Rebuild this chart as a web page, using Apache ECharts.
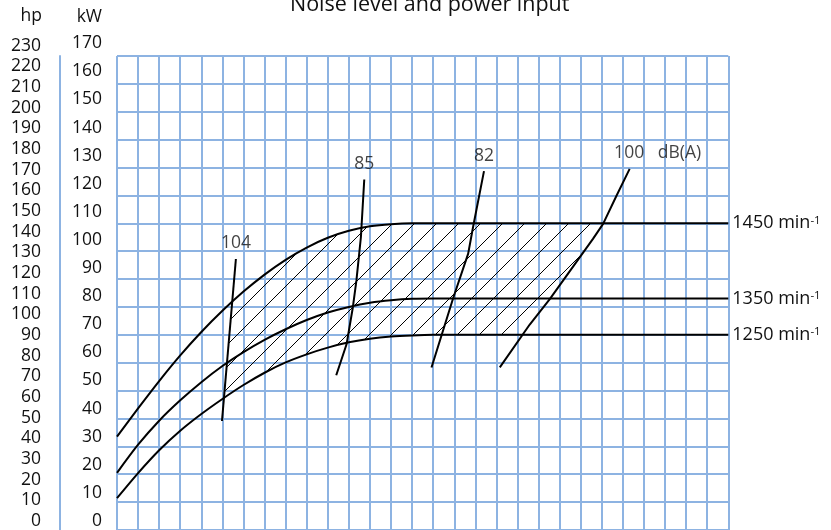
<!DOCTYPE html>
<html>
<head>
<meta charset="utf-8" />
<title>Noise level and power input</title>
<script src="https://cdn.jsdelivr.net/npm/echarts@6/dist/echarts.min.js"></script>
<style>
  html, body { margin: 0; padding: 0; background: #fff; }
  #main { width: 831px; height: 530px; }
</style>
</head>
<body>
<div id="main"></div>
<script>
// x = grid column (0..29), y = kW
var rpm1450 = [[0, 33.5], [1, 43.6], [2, 53.4], [3, 62.6], [4, 71.0], [5, 78.6], [6, 85.5], [7, 91.6],
  [8, 96.9], [9, 101.3], [10, 104.8], [11, 107.3], [12, 108.9], [13, 109.7], [14, 110], [29, 110]];
var rpm1350 = [[0, 20.5], [1, 30.6], [2, 39.2], [3, 46.5], [4, 53.0], [5, 58.8], [6, 63.8], [7, 68.2],
  [8, 72.0], [9, 75.3], [10, 78.0], [11, 80.0], [12, 81.5], [13, 82.4], [14, 82.9], [15, 83], [29, 83]];
var rpm1250 = [[0, 11.4], [1, 20.4], [2, 28.6], [3, 35.6], [4, 41.6], [5, 47.0], [6, 52.0], [7, 56.4],
  [8, 60.1], [9, 63.0], [10, 65.4], [11, 67.3], [12, 68.6], [13, 69.4], [14, 69.8], [15, 70], [29, 70]];
var rpmNames = ['1450', '1350', '1250'];

// noise level lines, dB(A)
var noise104 = [[4.98, 39.1], [5.64, 97.2]];
var noise85 = [[10.4, 55.5], [10.89, 66.6], [11.19, 79.9], [11.36, 89.6], [11.57, 105], [11.73, 125.7]];
var noise82 = [[14.92, 58.3], [15.95, 83.2], [16.66, 99.1], [16.89, 108.6], [17.41, 128.7]];
var noise100 = [[18.16, 58.3], [19.58, 73.7], [20.53, 82.8], [22.58, 104.4], [23.06, 109.8], [23.69, 119.8], [24.32, 129.5]];
var noiseNames = ['104', '85', '82', '100'];
var noiseUnit = 'dB(A)';

var kwMax = 170;
var hpPerKw = 1.36;
var tickStep = 10;
var columns = 29;

var gridBlue = '#8db3e2';
var textColor = '#111';
var font = 'Open Sans';

// hatched area: between 1450 and 1250 curves, 104 and 100 lines
function cross(a, b) {
  for (var i = 0; i < a.length - 1; i++) {
    for (var j = 0; j < b.length - 1; j++) {
      var p = a[i], q = b[j];
      var r = [a[i + 1][0] - p[0], a[i + 1][1] - p[1]];
      var s = [b[j + 1][0] - q[0], b[j + 1][1] - q[1]];
      var d = r[0] * s[1] - r[1] * s[0];
      if (!d) continue;
      var t = ((q[0] - p[0]) * s[1] - (q[1] - p[1]) * s[0]) / d;
      var u = ((q[0] - p[0]) * r[1] - (q[1] - p[1]) * r[0]) / d;
      if (t >= 0 && t <= 1 && u >= 0 && u <= 1) return [i + t, j + u];
    }
  }
  return [0, 0];
}
function slice(poly, from, to) {
  function at(k) {
    var i = Math.min(Math.floor(k), poly.length - 2), f = k - i;
    return [poly[i][0] + (poly[i + 1][0] - poly[i][0]) * f, poly[i][1] + (poly[i + 1][1] - poly[i][1]) * f];
  }
  var out = [at(from)];
  for (var i = Math.floor(from) + 1; i < to; i++) out.push(poly[i]);
  out.push(at(to));
  return out;
}
var c104t = cross(rpm1450, noise104), c104b = cross(rpm1250, noise104);
var c100t = cross(rpm1450, noise100), c100b = cross(rpm1250, noise100);
var hatchPoly = slice(rpm1450, c104t[0], c100t[0])
  .concat(slice(noise100, c100b[1], c100t[1]).reverse())
  .concat(slice(rpm1250, c104b[0], c100b[0]).reverse())
  .concat(slice(noise104, c104b[1], c104t[1]));

function hatchTile(size) {
  var c = document.createElement('canvas');
  c.width = size; c.height = size;
  var ctx = c.getContext('2d');
  ctx.strokeStyle = '#000';
  ctx.lineWidth = 1;
  ctx.beginPath();
  ctx.moveTo(-2, size + 2); ctx.lineTo(size + 2, -2);
  ctx.moveTo(-2, 2); ctx.lineTo(2, -2);
  ctx.moveTo(size - 2, size + 2); ctx.lineTo(size + 2, size - 2);
  ctx.stroke();
  return c;
}
var hatchImage = hatchTile(22);

var myChart = echarts.init(document.getElementById('main'));

var series = [{
  type: 'custom',
  xAxisIndex: 0, yAxisIndex: 0,
  silent: true,
  z: 2,
  data: [0],
  renderItem: function (params, api) {
    return {
      type: 'polygon',
      shape: { points: hatchPoly.map(function (p) { return api.coord(p); }) },
      style: { fill: { image: hatchImage, repeat: 'repeat' }, stroke: null }
    };
  }
}];

[rpm1450, rpm1350, rpm1250].forEach(function (d, i) {
  series.push({
    type: 'line',
    xAxisIndex: 0, yAxisIndex: 0,
    data: d,
    smooth: 0.3,
    symbol: 'none',
    z: 3,
    lineStyle: { color: '#000', width: 2 },
    endLabel: {
      show: true,
      distance: 4,
      formatter: rpmNames[i] + ' min{s|-1}',
      color: textColor, fontSize: 18, fontFamily: font,
      rich: { s: { fontSize: 11.5, fontFamily: font, color: textColor, verticalAlign: 'top', lineHeight: 11 } }
    }
  });
});

var noiseLines = [noise104, noise85, noise82, noise100];
noiseLines.forEach(function (d) {
  series.push({
    type: 'line',
    xAxisIndex: 0, yAxisIndex: 0,
    data: d,
    smooth: false,
    symbol: 'none',
    z: 4,
    lineStyle: { color: '#000', width: 2 }
  });
});

series.push({
  type: 'scatter',
  xAxisIndex: 0, yAxisIndex: 0,
  symbolSize: 1,
  itemStyle: { color: 'rgba(0,0,0,0)' },
  z: 5,
  label: {
    show: true, position: 'top', distance: 6, formatter: '{b}',
    color: textColor, fontSize: 17.5, fontFamily: font
  },
  data: noiseLines.map(function (d, i) {
    var item = { name: noiseNames[i], value: d[d.length - 1] };
    if (i === noiseLines.length - 1) {
      item.label = { formatter: noiseNames[i] + '   ' + noiseUnit, offset: [28, 0] };
    }
    return item;
  })
});

var option = {
  animation: false,
  backgroundColor: '#fff',
  title: {
    text: 'Noise level and power input',
    left: 290, top: -6, padding: 0,
    textStyle: { fontSize: 21.5, fontWeight: 'normal', color: textColor, fontFamily: font }
  },
  grid: [
    { left: 117, top: 56, width: 611.3, height: 478.5 },
    { left: 117, top: 43.3, width: 611.3, height: 478.4 }
  ],
  xAxis: [{
    gridIndex: 0, type: 'value', min: 0, max: columns, interval: 1,
    axisLine: { show: false }, axisTick: { show: false }, axisLabel: { show: false },
    splitLine: { show: true, lineStyle: { color: gridBlue, width: 2 } }
  }, {
    gridIndex: 1, type: 'value', min: 0, max: columns, show: false
  }],
  yAxis: [{
    gridIndex: 0, type: 'value', min: 0, max: kwMax, interval: tickStep,
    axisLine: { show: false }, axisTick: { show: false }, axisLabel: { show: false },
    splitLine: { show: true, lineStyle: { color: gridBlue, width: 2 } }
  }, {
    gridIndex: 0, type: 'value', min: 0, max: kwMax, position: 'left', offset: 57,
    axisLine: { show: true, lineStyle: { color: gridBlue, width: 2 } },
    axisTick: { show: false }, axisLabel: { show: false }, splitLine: { show: false }
  }, {
    gridIndex: 1, type: 'value', min: 0, max: kwMax, interval: tickStep, position: 'left',
    name: 'kW', nameLocation: 'end', nameGap: 17,
    nameTextStyle: { align: 'right', padding: [0, 15, 0, 0], color: textColor, fontSize: 17.5, fontFamily: font },
    axisLine: { show: false }, axisTick: { show: false }, splitLine: { show: false },
    axisLabel: { margin: 15, color: textColor, fontSize: 17.5, fontFamily: font }
  }, {
    gridIndex: 1, type: 'value', min: 0, max: kwMax * hpPerKw, interval: tickStep, position: 'left', offset: 68,
    name: 'hp', nameLocation: 'end', nameGap: 18,
    nameTextStyle: { align: 'right', padding: [0, 7, 0, 0], color: textColor, fontSize: 17.5, fontFamily: font },
    axisLine: { show: false }, axisTick: { show: false }, splitLine: { show: false },
    axisLabel: {
      margin: 8, color: textColor, fontSize: 17.5, fontFamily: font, showMaxLabel: false,
      formatter: function (v) { return v % tickStep === 0 ? v : ''; }
    }
  }],
  series: series
};
myChart.setOption(option);
</script>
</body>
</html>
